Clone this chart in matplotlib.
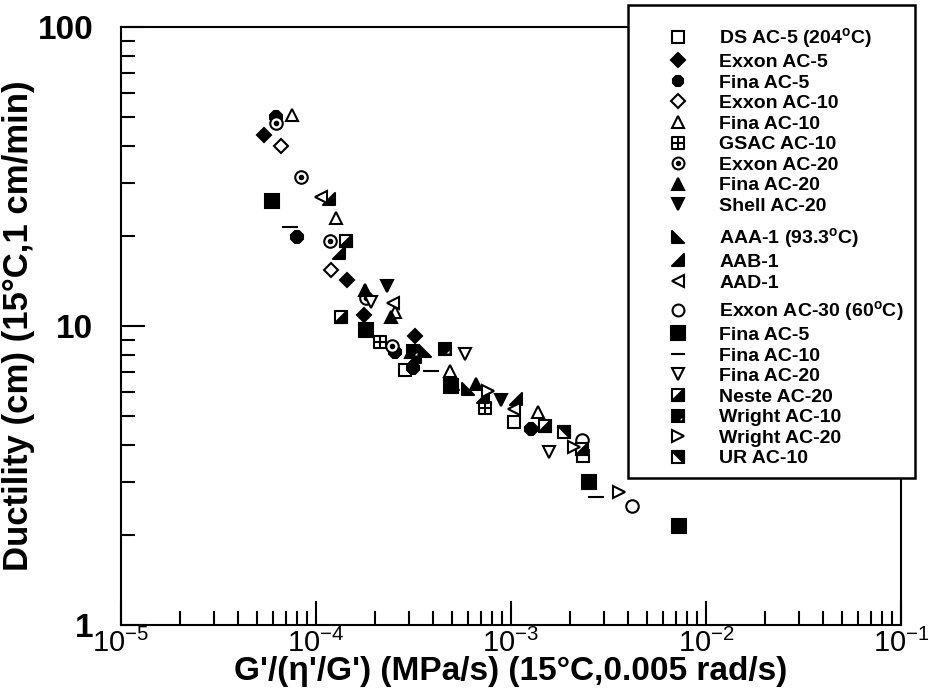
import matplotlib
matplotlib.use("Agg")
import matplotlib.pyplot as plt
from matplotlib.path import Path
from matplotlib.patches import Rectangle
from matplotlib.legend_handler import HandlerTuple
from matplotlib.ticker import LogLocator, NullFormatter

plt.rcParams["font.family"] = "Liberation Sans"
plt.rcParams["mathtext.fontset"] = "custom"
plt.rcParams["mathtext.rm"] = "Liberation Sans"
plt.rcParams["mathtext.bf"] = "Liberation Sans:bold"

# x = G'/(eta'/G') (MPa/s), y = ductility (cm)
ds_ac5_x = [2.86e-4, 1.03e-3, 2.34e-3]
ds_ac5_y = [7.10, 4.76, 3.67]
exxon_ac5_x = [5.42e-5, 1.44e-4, 1.77e-4, 3.22e-4]
exxon_ac5_y = [43.6, 14.2, 10.9, 9.29]
fina_ac5_x = [6.24e-5, 7.98e-5, 2.55e-4, 3.15e-4, 1.26e-3]
fina_ac5_y = [50.1, 19.8, 8.16, 7.21, 4.51]
exxon_ac10_x = [6.61e-5, 1.19e-4]
exxon_ac10_y = [40.1, 15.4]
fina_ac10_x = [7.52e-5, 1.26e-4, 2.55e-4, 4.86e-4, 1.38e-3]
fina_ac10_y = [50.8, 22.9, 11.1, 7.05, 5.14]
gsac_ac10_x = [2.14e-4, 7.33e-4]
gsac_ac10_y = [8.81, 5.30]
exxon_ac20_x = [6.24e-5, 8.36e-5, 1.175e-4, 1.81e-4, 2.46e-4]
exxon_ac20_y = [47.8, 31.6, 19.3, 12.4, 8.54]
fina_ac20_x = [1.79e-4, 2.43e-4, 3.08e-4, 6.59e-4]
fina_ac20_y = [13.2, 10.7, 8.16, 6.38]
shell_ac20_x = [2.32e-4, 8.84e-4]
shell_ac20_y = [13.6, 5.64]
aaa1_x = [3.62e-4, 5.04e-4, 6.00e-4]
aaa1_y = [8.22, 6.38, 6.14]
aab1_x = [1.16e-4, 1.31e-4, 3.22e-4, 7.16e-4, 1.055e-3]
aab1_y = [26.5, 17.6, 7.85, 5.77, 5.68]
aad1_x = [1.057e-4, 2.49e-4, 1.04e-3]
aad1_y = [27.1, 11.9, 5.26]
exxon_ac30_x = [2.31e-3, 4.16e-3]
exxon_ac30_y = [4.15, 2.50]
fina60_ac5_x = [5.95e-5, 1.81e-4, 4.92e-4, 2.51e-3, 7.23e-3]
fina60_ac5_y = [26.2, 9.66, 6.28, 3.00, 2.14]
fina60_ac10_x = [7.35e-5, 3.89e-4, 2.73e-3]
fina60_ac10_y = [21.5, 7.05, 2.68]
fina60_ac20_x = [1.92e-4, 5.79e-4, 1.57e-3]
fina60_ac20_y = [12.0, 8.03, 3.78]
neste_ac20_x = [1.35e-4, 1.42e-4, 1.50e-3, 2.31e-3]
neste_ac20_y = [10.7, 19.3, 4.62, 3.87]
wright_ac10_x = [3.15e-4, 4.58e-4]
wright_ac10_y = [8.22, 8.35]
wright_ac20_x = [7.59e-4, 2.11e-3, 3.57e-3]
wright_ac20_y = [6.04, 3.93, 2.78]
ur_ac10_x = [1.87e-3]
ur_ac10_y = [4.41]

M, L, C = Path.MOVETO, Path.LINETO, Path.CLOSEPOLY
tri_lower_left = Path([(-1, 1), (-1, -1), (1, -1), (-1, 1)], [M, L, L, C])
tri_lower_right = Path([(1, 1), (1, -1), (-1, -1), (1, 1)], [M, L, L, C])
tri_upper_right = Path([(-1, 1), (1, 1), (1, -1), (-1, 1)], [M, L, L, C])
grid_square = Path([(-1, -1), (1, -1), (1, 1), (-1, 1), (-1, -1),
                    (0, -1), (0, 1), (-1, 0), (1, 0)],
                   [M, L, L, L, C, M, L, M, L])
small_corner = Path([(-1, 1), (0.8, -0.8), (0.8, 0.2), (-0.2, -0.8), (0.8, -0.8)],
                    [M, M, L, L, C])

fig = plt.figure(figsize=(9.29, 6.91), dpi=100)
ax = fig.add_axes([121 / 929, 1 - 625 / 691, (901 - 121) / 929, (625 - 27) / 691])
ax.set_xscale("log")
ax.set_yscale("log")
ax.set_xlim(1e-5, 1e-1)
ax.set_ylim(1, 100)


def pts(x, y, marker, filled=False, ms=9, face=None):
    if face is None:
        face = "black" if filled else "white"
    line, = ax.plot(x, y, linestyle="none", marker=marker, ms=ms,
                    mfc=face, mec="black", mew=1.5)
    return line


h_ds = pts(ds_ac5_x, ds_ac5_y, "s")
h_exxon5 = pts(exxon_ac5_x, exxon_ac5_y, "D", True, ms=7)
h_fina5 = pts(fina_ac5_x, fina_ac5_y, "8", True)
h_exxon10 = pts(exxon_ac10_x, exxon_ac10_y, "D", ms=7)
h_fina10 = pts(fina_ac10_x, fina_ac10_y, "^")
h_gsac = pts(gsac_ac10_x, gsac_ac10_y, grid_square)
h_exxon20 = (pts(exxon_ac20_x, exxon_ac20_y, "o"),
             pts(exxon_ac20_x, exxon_ac20_y, "o", True, ms=2.5))
h_fina20 = pts(fina_ac20_x, fina_ac20_y, "^", True)
h_shell = pts(shell_ac20_x, shell_ac20_y, "v", True)
h_aaa = pts(aaa1_x, aaa1_y, tri_lower_left, True)
h_aab = pts(aab1_x, aab1_y, tri_lower_right, True)
h_aad = pts(aad1_x, aad1_y, "<")
h_exxon30 = pts(exxon_ac30_x, exxon_ac30_y, "o")
h_fina5b = pts(fina60_ac5_x, fina60_ac5_y, "s", True, ms=10)
h_fina10b = pts(fina60_ac10_x, fina60_ac10_y, "_", ms=11)
h_fina20b = pts(fina60_ac20_x, fina60_ac20_y, "v")
h_neste = (pts(neste_ac20_x, neste_ac20_y, "s"),
           pts(neste_ac20_x, neste_ac20_y, tri_lower_right, True))
h_wright10 = (pts(wright_ac10_x, wright_ac10_y, "s", True),
              pts(wright_ac10_x, wright_ac10_y, small_corner, face="white"))
h_wright20 = pts(wright_ac20_x, wright_ac20_y, ">")
h_ur = (pts(ur_ac10_x, ur_ac10_y, "s"),
        pts(ur_ac10_x, ur_ac10_y, tri_upper_right, True))

ax.xaxis.set_major_locator(LogLocator(base=10, numticks=10))
ax.xaxis.set_minor_locator(LogLocator(base=10, subs=range(2, 10), numticks=20))
ax.xaxis.set_minor_formatter(NullFormatter())
ax.set_yticks([1, 10, 100], labels=["1", "10", "100"])
ax.yaxis.set_minor_locator(LogLocator(base=10, subs=range(2, 10), numticks=20))
ax.yaxis.set_minor_formatter(NullFormatter())
ax.tick_params(which="both", direction="in", top=False, right=False, width=1.5)
ax.tick_params(which="major", length=17)
ax.tick_params(which="minor", length=10)
ax.tick_params(axis="x", labelsize=21, pad=3)
ax.tick_params(axis="y", labelsize=24, pad=20)
for lab in ax.get_yticklabels():
    lab.set_fontweight("bold")
for sp in ax.spines.values():
    sp.set_linewidth(1.5)

ax.set_xlabel("G'/(\u03b7'/G') (MPa/s) (15\u00b0C,0.005 rad/s)", fontsize=24,
              fontweight="bold", labelpad=-2)
ax.set_ylabel("Ductility (cm) (15\u00b0C,1 cm/min)", fontsize=25,
              fontweight="bold", labelpad=2)

# legend frame
fig.add_artist(Rectangle((628 / 929, 1 - 478 / 691), 287 / 929, 473 / 691,
                         transform=fig.transFigure, facecolor="white",
                         edgecolor="black", linewidth=1.8, zorder=4))

deg = "$^{\\mathdefault{o}}$"
groups = [
    ([h_ds, h_exxon5, h_fina5, h_exxon10, h_fina10, h_gsac, h_exxon20, h_fina20, h_shell],
     ["DS AC-5 (204" + deg + "C)", "Exxon AC-5", "Fina AC-5", "Exxon AC-10",
      "Fina AC-10", "GSAC AC-10", "Exxon AC-20", "Fina AC-20", "Shell AC-20"], 26),
    ([h_aaa, h_aab, h_aad],
     ["AAA-1 (93.3" + deg + "C)", "AAB-1", "AAD-1"], 226),
    ([h_exxon30, h_fina5b, h_fina10b, h_fina20b, h_neste, h_wright10, h_wright20, h_ur],
     ["Exxon AC-30 (60" + deg + "C)", "Fina AC-5", "Fina AC-10", "Fina AC-20",
      "Neste AC-20", "Wright AC-10", "Wright AC-20", "UR AC-10"], 299),
]
for handles, labels, top in groups:
    leg = fig.legend(handles, labels, loc="upper left",
                     bbox_to_anchor=(666 / 929, 1 - top / 691),
                     bbox_transform=fig.transFigure, frameon=False,
                     borderpad=0, borderaxespad=0, handlelength=1.2,
                     handletextpad=1.55, labelspacing=0.15, markerscale=0.95,
                     prop={"weight": "bold", "size": 14},
                     handler_map={tuple: HandlerTuple(ndivide=1, pad=0)})
    leg.set_zorder(5)

fig.savefig("out.png", dpi=100)
